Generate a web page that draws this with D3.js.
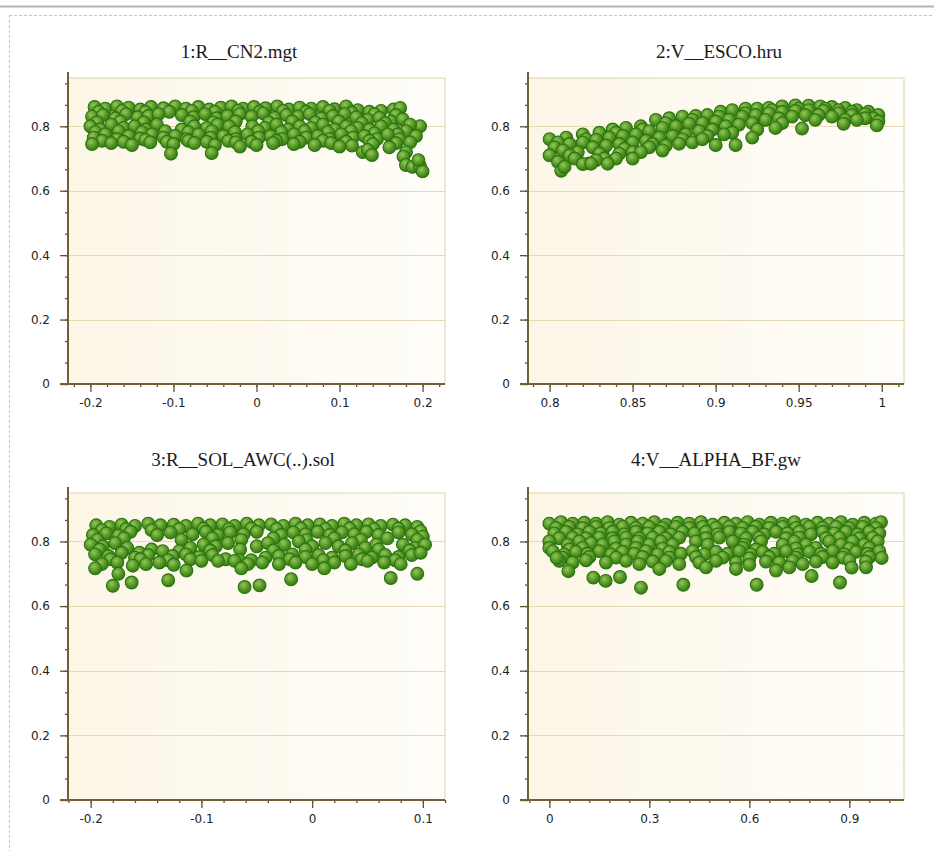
<!DOCTYPE html>
<html>
<head>
<meta charset="utf-8">
<script src="https://cdn.jsdelivr.net/npm/d3@7"></script>
<style>
body { margin: 0; background: #fff; }
svg { display: block; }
</style>
</head>
<body>
<script>
const w = 934;
const h = 851;

const titles = ["1:R__CN2.mgt", "2:V__ESCO.hru", "3:R__SOL_AWC(..).sol", "4:V__ALPHA_BF.gw"];

const yTicks = [0, 0.2, 0.4, 0.6, 0.8];
const xTicks1 = [-0.2, -0.1, 0, 0.1, 0.2];
const xTicks2 = [0.8, 0.85, 0.9, 0.95, 1];
const xTicks3 = [-0.2, -0.1, 0, 0.1];
const xTicks4 = [0, 0.3, 0.6, 0.9];

// points, [parameter value, objective]
const cn2 = [
  [-0.195,.86],[-0.182,.855],[-0.168,.862],[-0.154,.858],[-0.14,.852],[-0.127,.86],[-0.112,.856],[-0.098,.862],[-0.085,.855],[-0.07,.86],
  [-0.057,.852],[-0.043,.858],[-0.03,.862],[-0.016,.855],[-0.003,.86],[0.011,.856],[0.025,.862],[0.039,.852],[0.052,.858],[0.066,.855],
  [0.08,.86],[0.094,.853],[0.108,.862],[0.122,.85],[0.136,.845],[0.15,.848],[0.165,.852],[0.173,.857],
  [-0.19,.845],[-0.162,.848],[-0.134,.845],[-0.105,.845],[-0.078,.848],[-0.05,.845],[-0.022,.848],[0.004,.845],[0.032,.848],
  [0.06,.845],[0.088,.848],[0.115,.842],[0.142,.838],[0.168,.835],
  [-0.198,.83],[-0.185,.835],[-0.17,.825],[-0.157,.838],[-0.143,.828],[-0.13,.832],[-0.118,.838],[-0.09,.835],[-0.076,.828],[-0.062,.838],
  [-0.048,.825],[-0.035,.832],[-0.02,.838],[-0.006,.83],[0.008,.84],[0.022,.826],[0.036,.835],[0.05,.83],[0.064,.838],[0.078,.825],
  [0.092,.832],[0.106,.838],[0.12,.828],[0.134,.82],[0.148,.826],[0.162,.815],[0.176,.822],[0.197,.80],
  [-0.192,.812],[-0.164,.815],[-0.136,.812],[-0.08,.815],[-0.052,.812],[-0.025,.815],[0.015,.812],[0.043,.815],[0.071,.812],
  [0.099,.815],[0.127,.81],[0.155,.81],[0.185,.805],
  [-0.2,.80],[-0.188,.79],[-0.175,.805],[-0.16,.795],[-0.147,.80],[-0.133,.79],[-0.12,.805],[-0.09,.79],[-0.075,.80],[-0.06,.795],
  [-0.047,.805],[-0.033,.80],[-0.005,.80],[0.01,.795],[0.024,.805],[0.038,.79],[0.052,.80],[0.066,.795],[0.08,.805],[0.094,.79],
  [0.108,.80],[0.122,.795],[0.136,.79],[0.15,.80],[0.165,.79],[0.18,.785],[0.192,.77],
  [-0.194,.782],[-0.166,.785],[-0.138,.782],[-0.11,.785],[-0.082,.782],[-0.054,.785],[-0.026,.782],[0.002,.785],[0.03,.782],
  [0.058,.785],[0.086,.782],[0.114,.785],[0.142,.778],[0.17,.775],
  [-0.196,.765],[-0.182,.775],[-0.168,.76],[-0.154,.77],[-0.14,.762],[-0.126,.775],[-0.112,.765],[-0.098,.77],[-0.084,.76],[-0.07,.775],
  [-0.055,.765],[-0.04,.77],[-0.025,.76],[-0.011,.775],[0.003,.765],[0.017,.77],[0.031,.76],[0.045,.775],[0.06,.765],[0.074,.77],
  [0.088,.76],[0.102,.775],[0.116,.765],[0.13,.77],[0.145,.76],[0.158,.775],[0.172,.76],[0.185,.75],
  [-0.186,.755],[-0.16,.752],[-0.134,.758],[-0.108,.752],[-0.082,.755],[-0.06,.752],[-0.034,.755],[-0.006,.752],[0.024,.755],
  [0.052,.752],[0.08,.755],[0.108,.752],[0.136,.755],[0.168,.748],
  [-0.198,.745],[-0.175,.748],[-0.15,.742],[-0.128,.75],[-0.1,.745],[-0.075,.748],[-0.05,.742],[-0.025,.75],[0.0,.742],[0.02,.748],
  [0.045,.745],[0.07,.742],[0.09,.748],[0.115,.74],[0.14,.745],[0.16,.735],[0.18,.72],
  [-0.103,.715],[-0.054,.717],[-0.02,.737],[0.1,.737],[0.128,.72],[0.177,.706],[0.18,.68],[0.188,.674],[0.197,.676],[0.2,.66],
  [0.195,.695],[0.134,.727],[0.139,.711]
];

const esco = [
  [.80,.76],[.81,.765],[.82,.775],[.83,.78],[.838,.79],[.846,.795],[.855,.80],[.864,.82],[.872,.825],[.88,.83],[.888,.832],[.895,.835],
  [.903,.845],[.91,.85],[.918,.855],[.925,.855],[.932,.857],[.94,.862],[.948,.865],[.956,.864],[.963,.862],[.97,.86],[.978,.857],
  [.985,.85],[.992,.845],[.998,.835],
  [.805,.75],[.815,.735],[.822,.76],[.832,.725],[.84,.78],[.848,.735],[.856,.79],[.862,.76],[.87,.81],[.878,.785],[.886,.82],
  [.894,.80],[.902,.83],[.91,.81],[.918,.84],[.926,.82],[.934,.85],[.942,.835],[.95,.855],[.958,.84],[.966,.855],[.974,.85],
  [.982,.845],[.99,.838],[.995,.825],
  [.803,.735],[.812,.745],[.82,.75],[.828,.758],[.836,.765],[.844,.77],[.852,.775],[.86,.785],[.868,.795],[.876,.80],[.884,.808],
  [.892,.81],[.90,.815],[.908,.82],[.916,.83],[.924,.835],[.932,.84],[.94,.845],[.948,.848],[.956,.85],[.965,.848],[.974,.84],
  [.982,.835],[.99,.825],[.998,.815],
  [.80,.71],[.808,.725],[.817,.72],[.826,.735],[.834,.74],[.842,.745],[.85,.75],[.858,.755],[.866,.765],[.874,.77],[.882,.775],
  [.89,.785],[.898,.79],[.906,.80],[.914,.805],[.922,.81],[.93,.82],[.938,.825],[.946,.83],[.954,.835],[.962,.835],[.97,.83],[.978,.82],
  [.812,.71],[.83,.715],[.845,.73],[.862,.745],[.88,.76],[.895,.77],[.91,.78],[.925,.79],[.94,.81],[.96,.82],[.985,.82],
  [.805,.69],[.815,.70],[.824,.685],[.833,.70],[.842,.715],[.85,.72],[.86,.735],[.87,.74],[.878,.746],[.886,.75],[.90,.742],
  [.912,.742],[.922,.765],[.936,.795],[.952,.793],[.977,.808],[.997,.803],
  [.828,.695],[.84,.70],[.855,.72],[.868,.725],[.892,.76],[.905,.775],
  [.807,.662],[.809,.674],[.82,.683],[.825,.684],[.835,.684],[.85,.70]
];

const awc = [
  [-0.195,.85],[-0.183,.845],[-0.172,.852],[-0.16,.848],[-0.148,.855],[-0.137,.85],[-0.125,.852],[-0.114,.848],[-0.103,.855],
  [-0.092,.85],[-0.081,.853],[-0.07,.848],[-0.059,.855],[-0.048,.85],[-0.037,.853],[-0.026,.848],[-0.015,.855],[-0.004,.85],
  [0.007,.853],[0.018,.848],[0.029,.855],[0.04,.85],[0.051,.853],[0.062,.848],[0.073,.852],[0.084,.85],[0.095,.845],
  [-0.19,.835],[-0.168,.838],[-0.145,.835],[-0.12,.838],[-0.098,.84],[-0.075,.838],[-0.055,.84],[-0.032,.838],[-0.01,.84],
  [0.012,.838],[0.034,.84],[0.056,.838],[0.078,.84],[0.098,.832],
  [-0.198,.82],[-0.186,.825],[-0.175,.818],[-0.164,.83],[-0.14,.82],[-0.128,.828],[-0.108,.822],[-0.096,.83],[-0.085,.82],
  [-0.074,.828],[-0.062,.822],[-0.05,.83],[-0.028,.82],[-0.017,.828],[-0.006,.822],[0.005,.83],[0.016,.82],[0.027,.828],
  [0.038,.822],[0.049,.83],[0.06,.82],[0.078,.828],[0.09,.822],[0.1,.815],
  [-0.194,.805],[-0.17,.81],[-0.118,.805],[-0.09,.81],[-0.064,.805],[-0.035,.81],[-0.005,.805],[0.02,.81],[0.044,.805],
  [0.068,.81],[0.095,.805],
  [-0.2,.79],[-0.189,.785],[-0.178,.795],[-0.167,.78],[-0.145,.775],[-0.135,.77],[-0.11,.78],[-0.098,.79],[-0.087,.785],
  [-0.076,.795],[-0.05,.785],[-0.04,.795],[-0.025,.79],[-0.012,.80],[0.0,.785],[0.012,.795],[0.024,.785],[0.036,.795],
  [0.048,.78],[0.058,.79],[0.082,.79],[0.093,.78],[0.102,.79],
  [-0.192,.775],[-0.156,.765],[-0.12,.77],[-0.092,.772],[-0.065,.775],[-0.035,.772],[-0.006,.775],[0.03,.772],[0.06,.775],
  [0.088,.772],
  [-0.196,.76],[-0.184,.755],[-0.172,.765],[-0.16,.75],[-0.148,.758],[-0.126,.755],[-0.114,.76],[-0.102,.752],[-0.09,.758],
  [-0.078,.745],[-0.066,.742],[-0.055,.742],[-0.042,.75],[-0.03,.755],[-0.018,.76],[-0.006,.752],[0.006,.758],[0.018,.75],
  [0.03,.755],[0.042,.76],[0.054,.75],[0.066,.758],[0.078,.752],[0.09,.758],[0.098,.765],
  [-0.182,.745],[-0.155,.745],[-0.13,.742],[-0.11,.745],[-0.02,.745],[0.01,.742],[0.045,.745],[0.075,.742],
  [-0.19,.73],[-0.176,.735],[-0.162,.725],[-0.15,.73],[-0.138,.735],[-0.125,.728],[-0.1,.74],[-0.085,.74],[-0.07,.74],
  [-0.058,.73],[-0.045,.735],[-0.03,.73],[-0.015,.735],[0.0,.73],[0.02,.735],[0.035,.73],[0.05,.74],[0.065,.735],[0.08,.73],
  [-0.18,.663],[-0.163,.673],[-0.13,.68],[-0.1135,.71],[-0.061,.659],[-0.0475,.664],[-0.019,.683],[0.071,.687],[0.095,.70],
  [-0.196,.717],[-0.175,.70],[-0.064,.717],[0.011,.717]
];

const alpha = [
  [0.0,.855],[.035,.86],[.07,.855],[.105,.858],[.14,.855],[.175,.86],[.21,.852],[.245,.858],[.28,.855],[.315,.86],[.35,.852],
  [.385,.858],[.42,.855],[.455,.86],[.49,.852],[.525,.858],[.56,.855],[.595,.86],[.63,.852],[.665,.858],[.70,.855],[.735,.86],
  [.77,.852],[.805,.858],[.84,.855],[.875,.86],[.91,.852],[.945,.858],[.98,.855],[.995,.86],
  [.02,.842],[.06,.845],[.1,.842],[.14,.845],[.18,.842],[.22,.845],[.26,.842],[.3,.845],[.34,.842],[.38,.845],[.42,.842],
  [.46,.845],[.5,.842],[.54,.845],[.58,.842],[.62,.845],[.66,.842],[.70,.845],[.74,.842],[.78,.845],[.82,.842],[.86,.845],
  [.9,.842],[.94,.845],[.98,.842],
  [.015,.825],[.05,.83],[.085,.822],[.12,.83],[.155,.825],[.19,.83],[.225,.822],[.26,.83],[.295,.825],[.33,.83],[.365,.822],
  [.40,.83],[.435,.825],[.47,.83],[.505,.822],[.54,.83],[.575,.825],[.61,.83],[.645,.822],[.68,.83],[.715,.825],[.75,.83],
  [.785,.822],[.82,.83],[.855,.825],[.89,.83],[.925,.822],[.96,.83],[.99,.825],
  [.03,.81],[.07,.812],[.11,.81],[.15,.812],[.19,.81],[.23,.812],[.27,.81],[.31,.812],[.35,.81],[.39,.812],[.47,.81],[.51,.812],
  [.59,.81],[.63,.812],[.71,.81],[.75,.812],[.83,.81],[.87,.812],[.93,.81],[.97,.812],
  [0.0,.80],[.055,.79],[.09,.80],[.125,.795],[.16,.79],[.195,.80],[.23,.79],[.265,.80],[.30,.79],[.335,.80],[.37,.79],[.44,.80],
  [.475,.79],[.55,.80],[.585,.79],[.635,.80],[.70,.79],[.735,.80],[.77,.79],[.84,.80],[.875,.79],[.91,.80],[.945,.79],[.985,.80],
  [.0,.78],[.06,.775],[.1,.78],[.2,.778],[.26,.78],[.34,.778],[.58,.78],[.62,.775],[.74,.778],[.8,.78],[.9,.778],[.96,.78],
  [.01,.77],[.045,.76],[.08,.768],[.115,.762],[.15,.77],[.185,.76],[.22,.768],[.255,.762],[.29,.77],[.325,.76],[.36,.768],
  [.395,.762],[.43,.77],[.465,.76],[.50,.768],[.535,.762],[.57,.77],[.605,.76],[.64,.768],[.675,.762],[.71,.77],[.745,.76],
  [.78,.768],[.815,.762],[.85,.77],[.885,.76],[.92,.768],[.955,.762],[.99,.77],
  [.04,.75],[.12,.752],[.2,.75],[.28,.752],[.36,.75],[.44,.752],[.52,.75],[.6,.748],[.66,.752],[.74,.75],[.82,.752],[.88,.75],
  [.96,.752],
  [.03,.74],[.07,.735],[.11,.742],[.17,.735],[.23,.74],[.27,.73],[.31,.738],[.35,.74],[.39,.73],[.45,.735],[.5,.74],[.56,.735],
  [.6,.728],[.65,.738],[.69,.735],[.73,.74],[.76,.73],[.8,.738],[.85,.735],[.9,.742],[.95,.738],
  [.057,.708],[.132,.688],[.169,.678],[.212,.69],[.275,.657],[.402,.666],[.622,.666],[.787,.693],[.872,.673],[.022,.749],
  [.997,.749],[.907,.719],[.33,.715],[.47,.72],[.56,.715],[.68,.71],[.72,.72],[.95,.72]
];

const panels = [
  { title: titles[0], data: cn2, xDomain: [-0.227, 0.227], ticks: xTicks1, minor: 0.02, box: [68, 78, 445, 384], tx: 239, ty: 58 },
  { title: titles[1], data: esco, xDomain: [0.787, 1.0134], ticks: xTicks2, minor: 0.01, box: [528, 78, 904, 384], tx: 719, ty: 58 },
  { title: titles[2], data: awc, xDomain: [-0.2205, 0.12], ticks: xTicks3, minor: 0.02, box: [68, 493, 445, 800], tx: 243, ty: 466 },
  { title: titles[3], data: alpha, xDomain: [-0.064, 1.064], ticks: xTicks4, minor: 0.06, box: [528, 493, 904, 800], tx: 716, ty: 466 }
];

const svg = d3.select("body").append("svg").attr("width", w).attr("height", h);

const defs = svg.append("defs");
const ball = defs.append("radialGradient").attr("id", "ball")
  .attr("cx", "40%").attr("cy", "35%").attr("r", "65%");
ball.append("stop").attr("offset", "0%").attr("stop-color", "#94c75a");
ball.append("stop").attr("offset", "55%").attr("stop-color", "#599a28");
ball.append("stop").attr("offset", "100%").attr("stop-color", "#357a12");
const bg = defs.append("linearGradient").attr("id", "bg").attr("x1", 0).attr("x2", 1).attr("y1", 0).attr("y2", 0);
bg.append("stop").attr("offset", "0%").attr("stop-color", "#fcf6e7");
bg.append("stop").attr("offset", "100%").attr("stop-color", "#fffdf8");

// outer frame lines
svg.append("line").attr("x1", 0).attr("x2", w).attr("y1", 6.5).attr("y2", 6.5)
  .attr("stroke", "#b4b4b4").attr("stroke-width", 2);
svg.append("line").attr("x1", 9).attr("x2", w).attr("y1", 15.5).attr("y2", 15.5)
  .attr("stroke", "#c4c4c4").attr("stroke-dasharray", "3,2");
svg.append("line").attr("x1", 9.5).attr("x2", 9.5).attr("y1", 15).attr("y2", h)
  .attr("stroke", "#c4c4c4").attr("stroke-dasharray", "3,2");

function minorTicks(domain, step) {
  const out = [];
  const start = Math.ceil(domain[0] / step - 1e-9);
  const end = Math.floor(domain[1] / step + 1e-9);
  for (let i = start; i <= end; i++) out.push(+(i * step).toFixed(6));
  return out;
}

function fmt(d) { return String(+d.toFixed(3)); }

panels.forEach(p => {
  const [x0, y0, x1, y1] = p.box;
  const xScale = d3.scaleLinear().domain(p.xDomain).range([x0, x1]);
  const yScale = d3.scaleLinear().domain([0, 0.95]).range([y1, y0]);
  const g = svg.append("g");

  g.append("rect").attr("x", x0).attr("y", y0).attr("width", x1 - x0).attr("height", y1 - y0)
    .attr("fill", "url(#bg)").attr("stroke", "#ddd3ad").attr("stroke-width", 1);

  g.selectAll(".grid").data(yTicks.filter(d => d > 0)).enter().append("line")
    .attr("x1", x0).attr("x2", x1)
    .attr("y1", d => Math.round(yScale(d)) + 0.5).attr("y2", d => Math.round(yScale(d)) + 0.5)
    .attr("stroke", "#e5dab4").attr("stroke-width", 1);

  g.append("text").attr("x", p.tx).attr("y", p.ty).attr("text-anchor", "middle")
    .attr("font-family", "Liberation Serif, serif").attr("font-size", 19).attr("fill", "#1a1a1a")
    .text(p.title);

  g.selectAll("circle").data(p.data).enter().append("circle")
    .attr("cx", d => xScale(d[0])).attr("cy", d => yScale(d[1])).attr("r", 6.4)
    .attr("fill", "url(#ball)").attr("stroke", "#2a7410").attr("stroke-width", 1.1);

  // minor ticks
  g.append("g").attr("transform", "translate(0," + y1 + ")")
    .call(d3.axisBottom(xScale).tickValues(minorTicks(p.xDomain, p.minor)).tickSize(3).tickFormat(""))
    .call(a => a.select(".domain").remove());
  g.append("g").attr("transform", "translate(" + x0 + ",0)")
    .call(d3.axisLeft(yScale).tickValues(minorTicks([0, 0.95], 0.2 / 3)).tickSize(3).tickFormat(""))
    .call(a => a.select(".domain").remove());

  const xAxis = g.append("g").attr("transform", "translate(0," + y1 + ")")
    .call(d3.axisBottom(xScale).tickValues(p.ticks).tickSize(8).tickPadding(6).tickFormat(fmt));
  const yAxis = g.append("g").attr("transform", "translate(" + x0 + ",0)")
    .call(d3.axisLeft(yScale).tickValues(yTicks).tickSize(8).tickPadding(10).tickFormat(fmt));

  [xAxis, yAxis].forEach(a => {
    a.select(".domain").remove();
    a.selectAll("text").attr("font-family", "DejaVu Sans, sans-serif").attr("font-size", 12).attr("fill", "#1e1e1e");
  });
  g.selectAll(".tick line").attr("stroke", "#5e5430").attr("stroke-width", 1.3);

  g.append("line").attr("x1", x0 - 8).attr("x2", x1).attr("y1", y1).attr("y2", y1)
    .attr("stroke", "#6e6038").attr("stroke-width", 2);
  g.append("line").attr("x1", x0).attr("x2", x0).attr("y1", y0 - 6).attr("y2", y1)
    .attr("stroke", "#6e6038").attr("stroke-width", 2);
});
</script>
</body>
</html>
